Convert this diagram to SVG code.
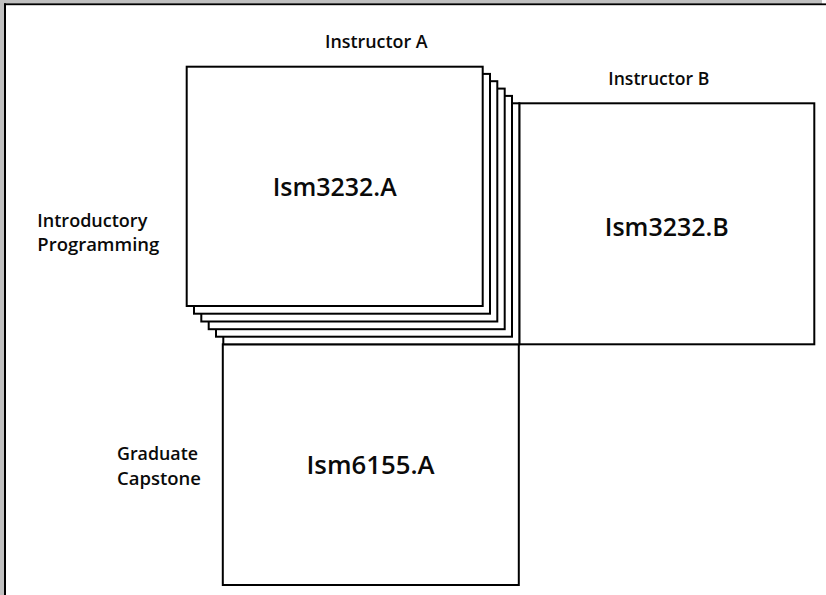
<svg xmlns="http://www.w3.org/2000/svg" width="826" height="595" viewBox="0 0 826 595">
<style>
.box{fill:#fff;stroke:#000;stroke-width:2}
.lbl{font-family:"Open Sans","Noto Sans","Liberation Sans",sans-serif;font-weight:600;fill:#0a0a0a}
.big{font-size:25px;text-anchor:middle}
.sm{font-size:17.5px}
</style>
<rect x="0" y="0" width="826" height="595" fill="#fff"/>
<rect x="0" y="0" width="822" height="4" fill="#c0c0c0"/>
<rect x="0" y="0" width="4" height="595" fill="#c0c0c0"/>
<rect x="4" y="3.4" width="822" height="1.8" fill="#000"/>
<rect x="4" y="3.4" width="2" height="591.6" fill="#000"/>

<g id="connectors"/>

<g id="ism3232b">
<rect class="box" x="519.3" y="103.3" width="295" height="241"/>
<text class="lbl big" x="666.8" y="236" textLength="124" lengthAdjust="spacingAndGlyphs">Ism3232.B</text>
</g>

<g id="ism6155a">
<rect class="box" x="222.8" y="344.3" width="296" height="240.7"/>
<text class="lbl big" x="370.5" y="474" textLength="128" lengthAdjust="spacingAndGlyphs">Ism6155.A</text>
</g>

<g id="ism3232a">
<rect class="box" x="223.3" y="103.3" width="296" height="241"/>
<rect class="box" x="216" y="95.9" width="296" height="240.8"/>
<rect class="box" x="208.7" y="88.6" width="296" height="240.6"/>
<rect class="box" x="201.3" y="81.2" width="296" height="240.3"/>
<rect class="box" x="194" y="73.9" width="296" height="239.8"/>
<rect class="box" x="186.7" y="66.7" width="296" height="239.3"/>
<text class="lbl big" x="334.7" y="196" textLength="124" lengthAdjust="spacingAndGlyphs">Ism3232.A</text>
</g>

<g id="label-instructor-a">
<text class="lbl sm" x="376.3" y="48" text-anchor="middle" textLength="102.7" lengthAdjust="spacingAndGlyphs">Instructor A</text>
</g>
<g id="label-instructor-b">
<text class="lbl sm" x="658.8" y="85" text-anchor="middle" textLength="101" lengthAdjust="spacingAndGlyphs">Instructor B</text>
</g>
<g id="label-intro">
<text class="lbl sm" x="37.3" y="227" textLength="110" lengthAdjust="spacingAndGlyphs">Introductory</text>
<text class="lbl sm" x="37.3" y="251" textLength="122" lengthAdjust="spacingAndGlyphs">Programming</text>
</g>
<g id="label-capstone">
<text class="lbl sm" x="117" y="460" textLength="81" lengthAdjust="spacingAndGlyphs">Graduate</text>
<text class="lbl sm" x="117" y="485" textLength="84" lengthAdjust="spacingAndGlyphs">Capstone</text>
</g>
</svg>
